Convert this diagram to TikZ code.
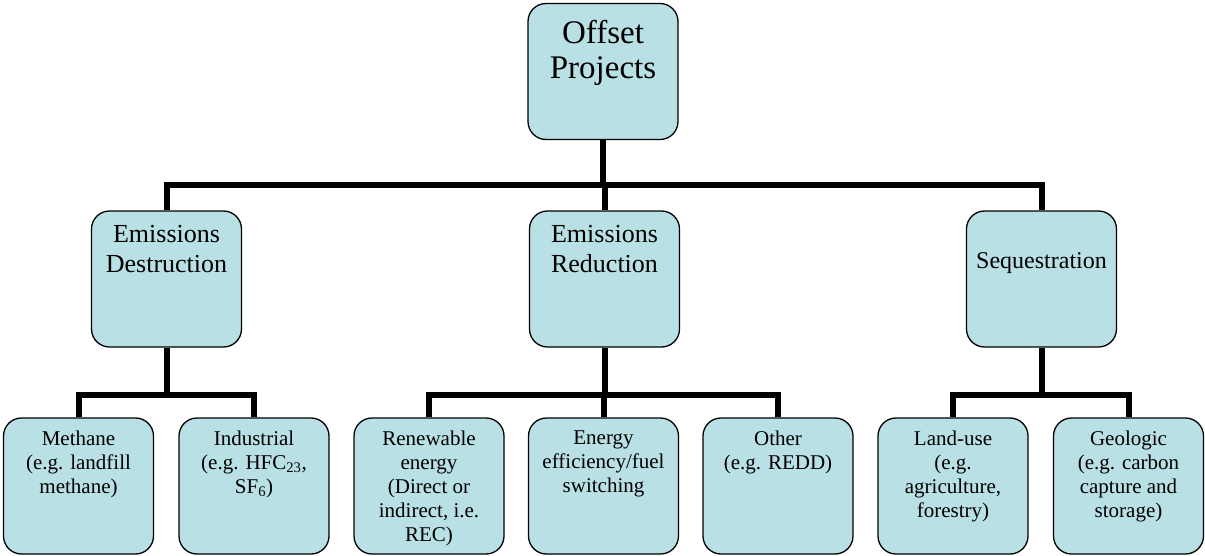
\documentclass[tikz,border=0pt]{standalone}
\usepackage{fontspec}
\setmainfont{Liberation Serif}
\definecolor{boxfill}{RGB}{185,224,228}
\begin{document}
\begin{tikzpicture}[x=1pt,y=-1pt,
  box/.style={draw=black,line width=1.3pt,fill=boxfill,rounded corners=18pt,
    minimum width=150pt,minimum height=136pt,inner sep=0pt},
  conn/.style={line width=6pt},
  txt/.style={anchor=north,align=center,inner sep=0pt},
  big/.style={font=\fontsize{33}{35}\selectfont},
  mid/.style={font=\fontsize{26}{30}\selectfont},
  small/.style={font=\fontsize{21}{24}\selectfont}]
\useasboundingbox (0,0) rectangle (1205,555);

% Boxes
\node[box] (op) at (603,71.5) {};
\node[box] (ed) at (166.5,279) {};
\node[box] (er) at (604.5,279) {};
\node[box] (sq) at (1041.5,279) {};
\node[box] (me) at (78.5,486) {};
\node[box] (in) at (254,486) {};
\node[box] (re) at (429,486) {};
\node[box] (ee) at (603.5,486) {};
\node[box] (ot) at (778,486) {};
\node[box] (lu) at (953,486) {};
\node[box] (ge) at (1128.5,486) {};

% Labels
\node[txt,big] (op-t) at ([yshift=-17pt]op.north) {Offset\\Projects};
\node[txt,mid] (ed-t) at ([yshift=-15pt]ed.north) {Emissions\\Destruction};
\node[txt,mid] (er-t) at ([yshift=-15pt]er.north) {Emissions\\Reduction};
\node[txt,font=\fontsize{24}{28}\selectfont] (sq-t) at ([yshift=-42pt]sq.north) {Sequestration};
\node[txt,small] (me-t) at ([yshift=-13pt]me.north) {Methane\\(e.g. landfill\\methane)};
\node[txt,small] (in-t) at ([yshift=-13pt]in.north) {Industrial\\(e.g. HFC\textsubscript{23},\\SF\textsubscript{6})};
\node[txt,small] (re-t) at ([yshift=-13pt]re.north) {Renewable\\energy\\(Direct or\\indirect, i.e.\\REC)};
\node[txt,small] (ee-t) at ([yshift=-13pt]ee.north) {Energy\\efficiency/fuel\\switching};
\node[txt,small] (ot-t) at ([yshift=-13pt]ot.north) {Other\\(e.g. REDD)};
\node[txt,small] (lu-t) at ([yshift=-13pt]lu.north) {Land-use\\(e.g.\\agriculture,\\forestry)};
\node[txt,small] (ge-t) at ([yshift=-13pt]ge.north) {Geologic\\(e.g. carbon\\capture and\\storage)};

% Connectors
\coordinate (bus1) at (603,185);
\coordinate (bus2) at (166.5,395);
\coordinate (bus3) at (604.5,395);
\coordinate (bus4) at (1041.5,395);
\draw[conn] (op.south) -- (bus1);
\draw[conn] (ed.north) |- (bus1) -| (sq.north);
\draw[conn] (er.north) -- (er.north |- bus1);
\draw[conn] (ed.south) -- (bus2);
\draw[conn] (me.north) |- (bus2) -| (in.north);
\draw[conn] (er.south) -- (bus3);
\draw[conn] (re.north) |- (bus3) -| (ot.north);
\draw[conn] (ee.north) -- (ee.north |- bus3);
\draw[conn] (sq.south) -- (bus4);
\draw[conn] (lu.north) |- (bus4) -| (ge.north);

\end{tikzpicture}
\end{document}
